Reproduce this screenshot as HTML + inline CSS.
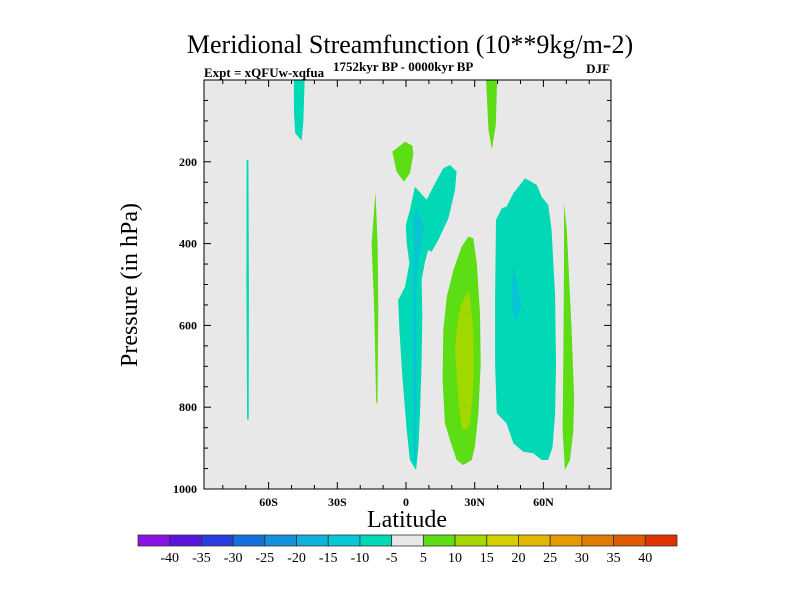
<!DOCTYPE html>
<html><head><meta charset="utf-8"><style>
body{margin:0;background:#fff;width:800px;height:600px;overflow:hidden}
svg text{font-family:"Liberation Serif",serif}
</style></head><body>
<svg id="chart" width="800" height="600" viewBox="0 0 800 600" xmlns="http://www.w3.org/2000/svg">
<text x="410" y="53" font-size="26" text-anchor="middle">Meridional Streamfunction (10**9kg/m-2)</text>
<text x="204" y="77" font-size="13" font-weight="bold">Expt = xQFUw-xqfua</text>
<text x="333" y="71" font-size="13" font-weight="bold">1752kyr BP - 0000kyr BP</text>
<text x="610" y="73" font-size="13" font-weight="bold" text-anchor="end">DJF</text>
<rect x="204" y="80" width="407" height="409" fill="#e8e8e8"/>
<g id="fills"></g>
<rect x="204" y="80" width="407" height="409" fill="none" stroke="#000" stroke-width="1"/>
<g id="axes"></g>
<text transform="translate(137,285) rotate(-90)" font-size="24" text-anchor="middle">Pressure (in hPa)</text>
<text x="407" y="527" font-size="24" text-anchor="middle">Latitude</text>
<g id="colorbar"></g>
</svg>
<script>
const xTicks=[-60,-30,0,30,60];
const xTickLabels=["60S","30S","0","30N","60N"];
const yTicks=[200,400,600,800,1000];
const levelLabels=[-40,-35,-30,-25,-20,-15,-10,-5,5,10,15,20,25,30,35,40];
const levelColors=["#8a14e6","#5a14dc","#2a3ede","#1470dc","#1493dc","#10b2dc","#08c8d8","#00d8b6","#e8e8e8","#5ddd14","#a6d800","#d4d000","#e4b800","#e49a00","#e07c00","#e05a00","#e03200"];
const shapeLevels=["c10","c15","g5","g10","c10","c15","g5","g5","g5","g5","c10","c10"];
const shapeNames=["cyan-cell-equatorial","cyan-core-equatorial","green-cell-subtropical","green-core-subtropical","cyan-cell-midlat","cyan-core-midlat","green-cell-highlat","green-cell-equator-upper","green-sliver-south","green-strip-top","cyan-strip-top","cyan-line-south"];
const shapePoints=[
[[3.9,260.8],[9.0,293],[12.7,252.6],[16.3,215.9],[19.2,207.8],[22.1,224],[21.4,268.9],[18.5,338.2],[14.1,391.2],[11.2,419.7],[9.7,415.6],[8.3,444.1],[6.8,489],[7.1,570.5],[6.8,692.7],[6.1,815],[5.4,896.5],[4.4,953.5],[1.7,929],[0.3,855.7],[-1.5,733.5],[-2.9,611.2],[-3.4,537.9],[-0.4,505.3],[1.5,448.2],[0.3,399.3],[-0.1,354.5],[1.7,317.8]],
[[4.4,313.7],[7.9,354.5],[6.8,391.1],[5.4,431.9],[4.6,489],[4.4,611.2],[4.6,774.2],[4.4,937.2],[3.6,937.2],[3.2,774.2],[2.9,611.2],[3.2,489],[3.5,391.1],[3.2,350.4]],
[[27.2,383],[29.4,387.1],[30.9,448.2],[32.3,570.5],[32.6,692.7],[31.6,815],[30.1,896.5],[28.7,929],[25.0,941.3],[22.1,929],[19.2,880.2],[17.0,839.4],[16.0,733.5],[16.3,611.2],[17.8,529.7],[20.7,464.5],[24.3,407.5]],
[[26.8,517.5],[27.9,529.7],[29.4,611.2],[29.7,692.7],[29.1,774.2],[27.9,839.4],[26.5,855.7],[24.3,851.6],[22.8,774.2],[21.4,660.1],[22.4,594.9],[24.3,546]],
[[52.0,240.4],[57.1,256.7],[59.2,285.2],[62.1,305.6],[63.6,366.7],[65.1,529.7],[65.5,692.7],[65.1,815],[64.0,896.5],[62.1,929],[59.2,929],[55.6,912.8],[51.2,908.7],[46.9,888.3],[43.9,839.4],[39.6,815],[38.9,692.7],[38.9,529.7],[39.3,342.3],[41.8,313.7],[43.9,309.6],[46.9,277.1]],
[[46.9,448.2],[50.5,554.2],[47.2,594.9],[46.1,529.7]],
[[69.0,301.5],[70.2,366.7],[72.3,611.2],[73.4,774.2],[73.1,855.7],[71.6,929],[69.4,953.5],[68.4,855.7],[68.7,692.7],[69.0,448.2]],
[[-6.0,175],[-0.4,151],[2.8,161],[3.2,183],[1.7,228],[-0.9,249],[-4.1,224]],
[[-13.3,273],[-12.4,400],[-12.1,560],[-12.5,790],[-13.0,790],[-13.9,560],[-15.0,400]],
[[35,0],[39.8,0],[39.2,110],[37.5,170],[36,120]],
[[-49,0],[-44.3,0],[-44.8,100],[-45.6,148],[-48.4,130],[-48.9,80]],
[[-69.6,195],[-68.8,195],[-68.6,500],[-68.7,830],[-69.4,830],[-69.7,500]]
];
const fillMap={c10:"#00d8b6",c15:"#08c4d4",g5:"#5ddd14",g10:"#a0d800"};
const X=lat=>406+lat*(68.7/30);
const Y=p=>80+p*0.409;
const NS="http://www.w3.org/2000/svg";
function mk(t,a,parent){const e=document.createElementNS(NS,t);for(const k in a)e.setAttribute(k,a[k]);parent.appendChild(e);return e;}
const fills=document.getElementById('fills');
shapePoints.forEach((pts,i)=>{
  const e=mk('polygon',{points:pts.map(q=>X(q[0]).toFixed(1)+','+Y(q[1]).toFixed(1)).join(' '),fill:fillMap[shapeLevels[i]]},fills);
  
  
});
const axes=document.getElementById('axes');
for(let lat=-80;lat<=80;lat+=10){
  const major=lat%30===0;const L=major?7:4;const x=X(lat);
  mk('line',{x1:x,x2:x,y1:489,y2:489-L,stroke:'#000'},axes);
  mk('line',{x1:x,x2:x,y1:80,y2:80+L,stroke:'#000'},axes);
}
xTicks.forEach((v,i)=>{
  const t=mk('text',{x:X(v),y:506,'font-size':12,'font-weight':'bold','text-anchor':'middle'},axes);
  t.textContent=xTickLabels[i];
  
  
});
for(let p=50;p<1000;p+=50){
  const major=p%200===0;const L=major?7:4;const y=Y(p);
  mk('line',{x1:204,x2:204+L,y1:y,y2:y,stroke:'#000'},axes);
  mk('line',{x1:611,x2:611-L,y1:y,y2:y,stroke:'#000'},axes);
}
yTicks.forEach(v=>{
  const t=mk('text',{x:197,y:Y(v)+4,'font-size':12,'font-weight':'bold','text-anchor':'end'},axes);
  t.textContent=v;
  
  
});
const cb=document.getElementById('colorbar');
const cbL=138,cbR=677,n=levelColors.length,w=(cbR-cbL)/n;
levelColors.forEach((c,i)=>{
  const r=mk('rect',{x:cbL+i*w,y:535,width:w,height:11,fill:c,stroke:'#333','stroke-width':0.8},cb);
  
  
});
levelLabels.forEach((v,i)=>{
  const t=mk('text',{x:cbL+(i+1)*w,y:562,'font-size':14,'text-anchor':'middle'},cb);
  t.textContent=v;
  
  
});
</script>
</body></html>
